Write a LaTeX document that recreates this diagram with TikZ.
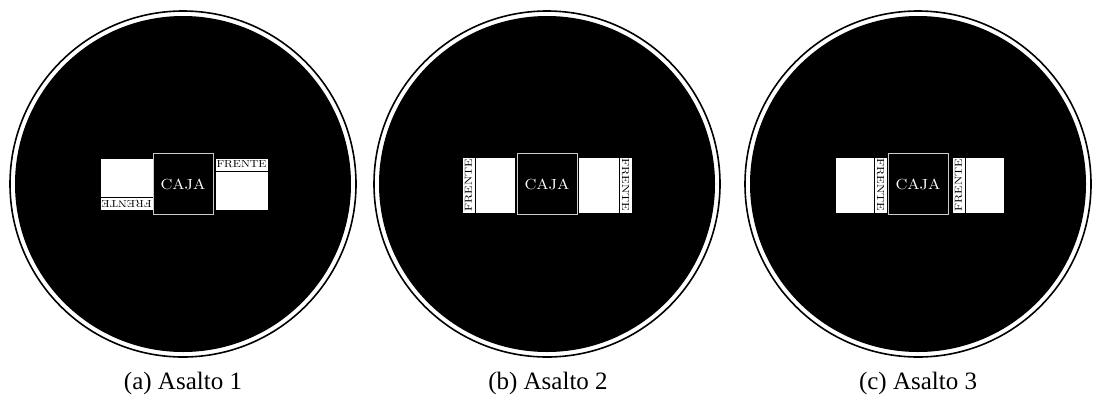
\documentclass[tikz,border=0pt]{standalone}
\usepackage{fontspec}
\newfontfamily\capfont{Liberation Serif}
\usepackage{graphicx}
\begin{document}
\begin{tikzpicture}[x=1pt,y=-1pt,
  disk/.style={fill=black},
  ring/.style={draw=black,line width=1.6pt},
  sidebox/.style={draw=black,fill=white,line width=0.6pt,inner sep=0pt,minimum width=#1},
  strip/.style={draw=black,fill=white,line width=0.6pt,inner sep=0pt},
  cajabox/.style={draw=white!80!black,fill=black,line width=1pt,inner sep=0pt,
    minimum width=60pt,minimum height=61pt,text=white},
  captxt/.style={font=\capfont\fontsize{25}{28}\selectfont,inner sep=0pt}
]
\useasboundingbox (0,0) rectangle (1094,410);
\newcommand{\frh}{\resizebox{50pt}{7pt}{FRENTE}}
\newcommand{\frv}{\resizebox{53pt}{7pt}{FRENTE}}
\newcommand{\caja}{\resizebox{45pt}{10.5pt}{CAJA}}

% ---------- (a) ----------
\fill[disk] (183,184) circle (168);
\draw[ring] (183,184) circle (173);
\node[sidebox=53pt,minimum height=52pt] (a-l) at (126.5,184) {};
\node[strip,minimum width=53pt,minimum height=13pt] (a-ls) at (126.5,203.5) {};
\node[rotate=180,inner sep=0pt] (a-lt) at (a-ls) {\frh};
\node[sidebox=53pt,minimum height=52pt] (a-r) at (241.5,184) {};
\node[strip,minimum width=53pt,minimum height=13pt] (a-rs) at (241.5,164.5) {};
\node[inner sep=0pt] (a-rt) at (a-rs) {\frh};
\node[cajabox] (a-c) at (183,184) {\caja};
\node[captxt] (a-cap) at (183,383) {(a) Asalto 1};

% ---------- (b) ----------
\fill[disk] (547,184) circle (168);
\draw[ring] (547,184) circle (173);
\node[sidebox=53pt,minimum height=56pt] (b-l) at (488.5,185) {};
\node[strip,minimum width=13pt,minimum height=56pt] (b-ls) at (468.5,185) {};
\node[rotate=90,inner sep=0pt] (b-lt) at (b-ls) {\frv};
\node[sidebox=54pt,minimum height=56pt] (b-r) at (605,185) {};
\node[strip,minimum width=13pt,minimum height=56pt] (b-rs) at (625.5,185) {};
\node[rotate=-90,inner sep=0pt] (b-rt) at (b-rs) {\frv};
\node[cajabox] (b-c) at (547,184) {\caja};
\node[captxt] (b-cap) at (548,383) {(b) Asalto 2};

% ---------- (c) ----------
\fill[disk] (918,184) circle (168);
\draw[ring] (918,184) circle (173);
\node[sidebox=52pt,minimum height=56pt] (c-l) at (861,185) {};
\node[strip,minimum width=13pt,minimum height=56pt] (c-ls) at (880.5,185) {};
\node[rotate=-90,inner sep=0pt] (c-lt) at (c-ls) {\frv};
\node[sidebox=52pt,minimum height=56pt] (c-r) at (978,185) {};
\node[strip,minimum width=13pt,minimum height=56pt] (c-rs) at (958.5,185) {};
\node[rotate=90,inner sep=0pt] (c-rt) at (c-rs) {\frv};
\node[cajabox] (c-c) at (918,184) {\caja};
\node[captxt] (c-cap) at (918,383) {(c) Asalto 3};
\end{tikzpicture}
\end{document}
